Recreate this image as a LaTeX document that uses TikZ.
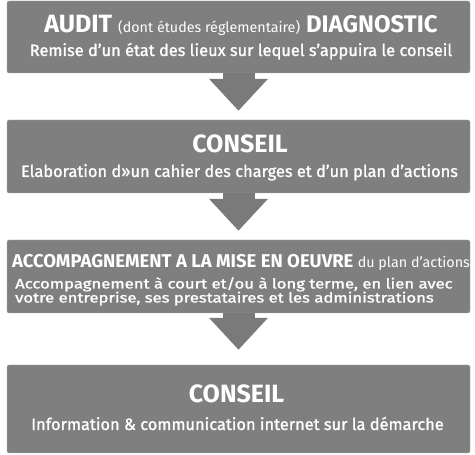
\documentclass[tikz,border=0pt]{standalone}
\usepackage{fontspec}
\setmainfont{Fira Sans}
\newfontfamily\epaisfont{Fira Sans}[FakeBold=1.2]
\usetikzlibrary{arrows.meta}
\definecolor{boxgray}{HTML}{7F7F7F}
\definecolor{edgegray}{HTML}{A5AEAC}
\definecolor{arrowgray}{HTML}{7A7A7A}
\tikzset{etape/.style = {draw=edgegray, fill=boxgray, rounded corners=2pt, minimum width=463pt, inner sep=0pt}}
\tikzset{titre/.style = {text=white, anchor=base, inner sep=0pt, font=\fontsize{25}{28}\selectfont\bfseries}}
\tikzset{ligne/.style = {text=white, anchor=base, inner sep=0pt, font=\epaisfont\fontsize{16.4}{18}\selectfont}}
\tikzset{serre/.style = {ligne, anchor=base west, font=\epaisfont\fontsize{13.8}{15}\selectfont}}
\tikzset{fleche/.style = {draw=arrowgray, line width=32pt, -{Triangle[width=57pt, length=32pt]}}}
\newcommand{\finefont}{\fontsize{14.3}{16}\selectfont\mdseries}

\begin{document}
\begin{tikzpicture}[x=1pt, y=1pt]
  \useasboundingbox (0,0) rectangle (475,455);
  % les quatre etapes
  \node [etape, minimum height=72pt] (b1) at (238.5,418) {};
  \node [etape, minimum height=73pt] (b2) at (238.5,298.5) {};
  \node [etape, minimum height=73pt] (b3) at (238.5,178.5) {};
  \node [etape, minimum height=88pt] (b4) at (238.5,46) {};

  \node [titre] (t1) at (241,422) {AUDIT {\finefont (dont études réglementaire)} {\fontsize{24}{28}\selectfont DIAGNOSTIC}};
  \node [ligne] (l1) at (241,399) {Remise d’un état des lieux sur lequel s’appuira le conseil};
  \node [titre] (t2) at (240,302) {CONSEIL};
  \node [ligne] (l2) at (239.5,278) {Elaboration d»un cahier des charges et d’un plan d’actions};
  \node [titre, font=\fontsize{18.5}{20}\selectfont\bfseries] (t3) at (241,187) {ACCOMPAGNEMENT A LA MISE EN OEUVRE {\finefont du plan d’actions}};
  \node [serre] (l3a) at (15,166.5) {\scalebox{1.21}[1]{Accompagnement à court et/ou à long terme, en lien avec}};
  \node [serre] (l3b) at (15,152.5) {\scalebox{1.21}[1]{votre entreprise, ses prestataires et les administrations}};
  \node [titre] (t4) at (236.5,52) {CONSEIL};
  \node [ligne] (l4) at (237.5,25) {Information \& communication internet sur la démarche};

  \draw [fleche, shorten >=9pt] (b1) -- (b2);
  \draw [fleche, shorten >=9pt] (b2) -- (b3);
  \draw [fleche, shorten >=15pt] (b3) -- (b4);
\end{tikzpicture}
\end{document}
